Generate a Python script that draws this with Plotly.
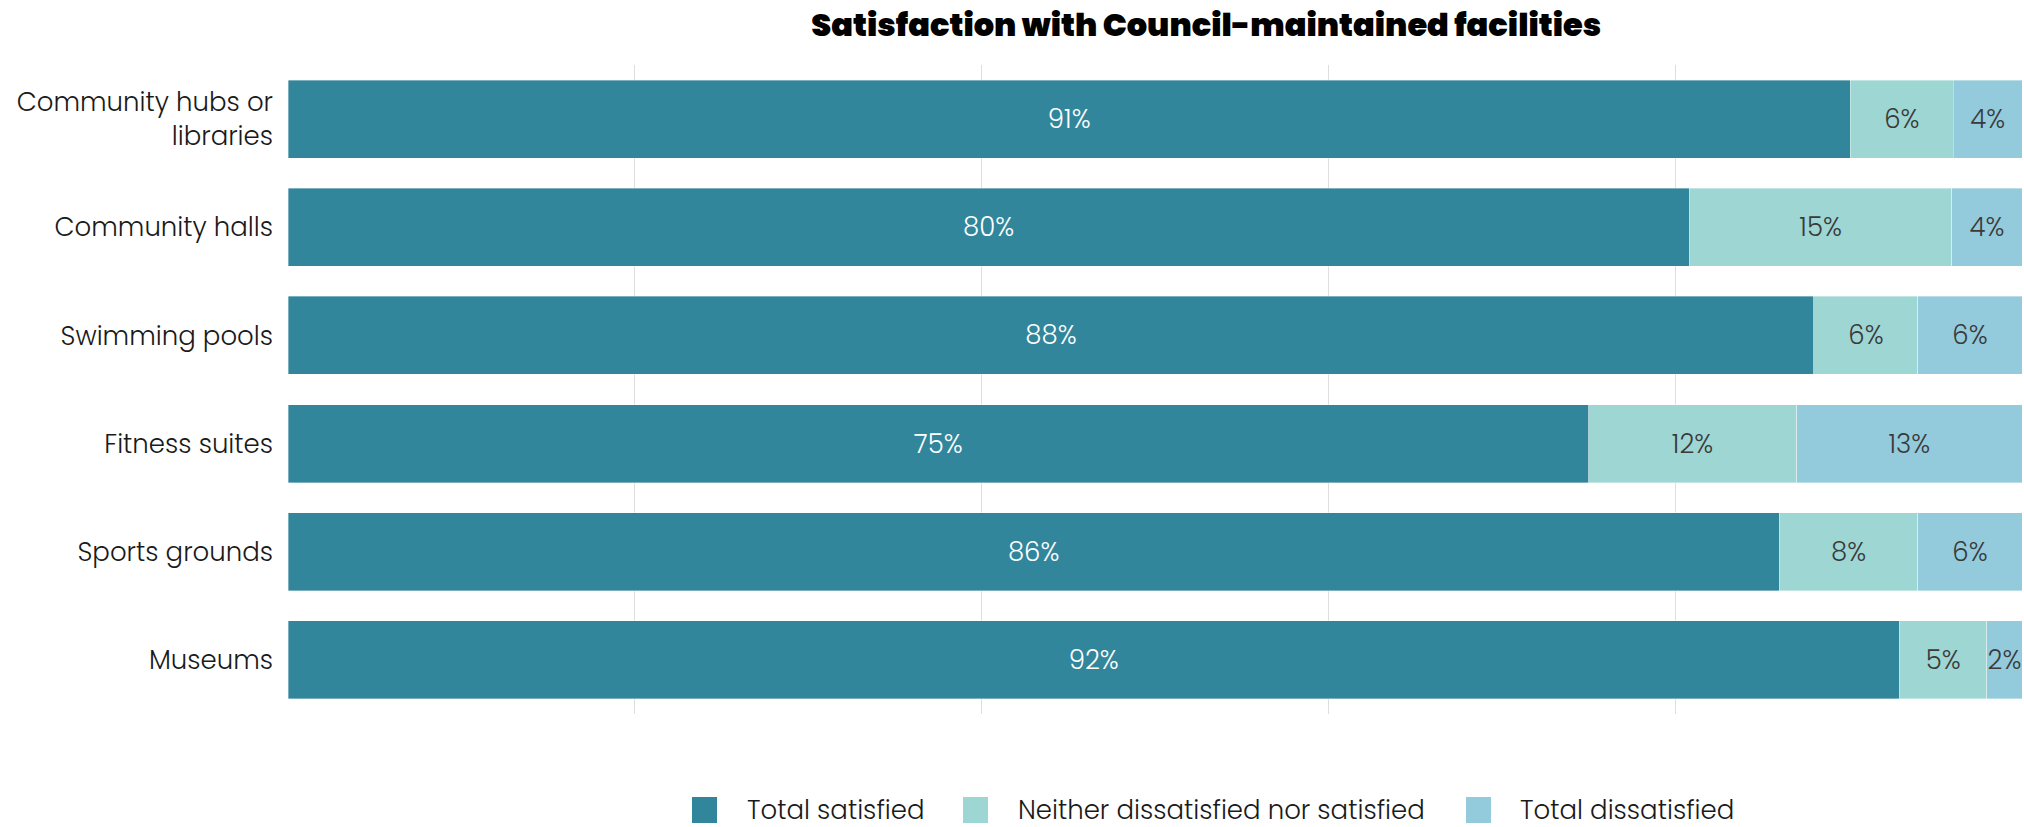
import plotly.graph_objects as go

# Survey results: share of respondents per facility (percent)
facilities = [
    "Community hubs or<br>libraries",
    "Community halls",
    "Swimming pools",
    "Fitness suites",
    "Sports grounds",
    "Museums",
]
total_satisfied = [91, 80, 88, 75, 86, 92]
neither = [6, 15, 6, 12, 8, 5]
total_dissatisfied = [4, 4, 6, 13, 6, 2]

series = [
    ("Total satisfied", total_satisfied, "#31869c", "#ffffff"),
    ("Neither dissatisfied nor satisfied", neither, "#9ed6d4", "#3a3a3a"),
    ("Total dissatisfied", total_dissatisfied, "#93cbdc", "#3a3a3a"),
]

FONT = "Poppins, Open Sans, sans-serif"
W, H = 2024, 827
ML, MR, MT, MB = 288, 2, 65, 113
PW, PH = W - ML - MR, H - MT - MB


def px_x(x):
    """Pixel column -> paper x."""
    return (x - ML) / PW


def px_y(y):
    """Pixel row -> paper y."""
    return (H - MB - y) / PH


fig = go.Figure()
for name, vals, color, txtcolor in series:
    fig.add_trace(go.Bar(
        name=name,
        y=facilities,
        x=vals,
        orientation="h",
        marker=dict(color=color, line=dict(color="rgba(255,255,255,0.6)", width=0.6)),
        text=[f"{v}%" for v in vals],
        textposition="inside",
        insidetextanchor="middle",
        constraintext="none",
        textfont=dict(family=FONT, size=26, color=txtcolor, weight=300),
        hoverinfo="skip",
        showlegend=False,
    ))

# Legend row: coloured squares followed by series names
legend_pos = [(692, 745), (963, 1016), (1466, 1518)]
legend_cy = 810
for (name, _, color, _), (sq_x, tx_x) in zip(series, legend_pos):
    fig.add_shape(
        type="rect", xref="paper", yref="paper",
        x0=px_x(sq_x), x1=px_x(sq_x + 25),
        y0=px_y(legend_cy + 13), y1=px_y(legend_cy - 13),
        fillcolor=color, line=dict(width=0),
    )
    fig.add_annotation(
        text=name, xref="paper", yref="paper",
        x=px_x(tx_x), y=px_y(legend_cy),
        xanchor="left", yanchor="middle", showarrow=False,
        font=dict(family=FONT, size=26, color="#1a1a1a", weight=300),
    )

fig.update_layout(
    barmode="stack",
    barnorm="percent",
    bargap=0.28,
    width=W,
    height=H,
    margin=dict(l=ML, r=MR, t=MT, b=MB),
    paper_bgcolor="white",
    plot_bgcolor="white",
    font=dict(family=FONT, size=26, color="#1a1a1a"),
    title=dict(
        text="Satisfaction with Council-maintained facilities",
        x=0.596, xanchor="center",
        y=0.97, yanchor="middle",
        font=dict(family=FONT, size=32, color="#000000", weight=900),
    ),
    showlegend=False,
)

fig.update_xaxes(
    range=[0, 100],
    dtick=20,
    showgrid=True,
    gridcolor="#dedede",
    gridwidth=1,
    showticklabels=False,
    zeroline=False,
    showline=False,
)
fig.update_yaxes(
    autorange="reversed",
    showgrid=False,
    ticks="",
    ticklabelstandoff=14,
    tickfont=dict(family=FONT, size=26, color="#1a1a1a", weight=300),
)

fig.write_html("out.html")
